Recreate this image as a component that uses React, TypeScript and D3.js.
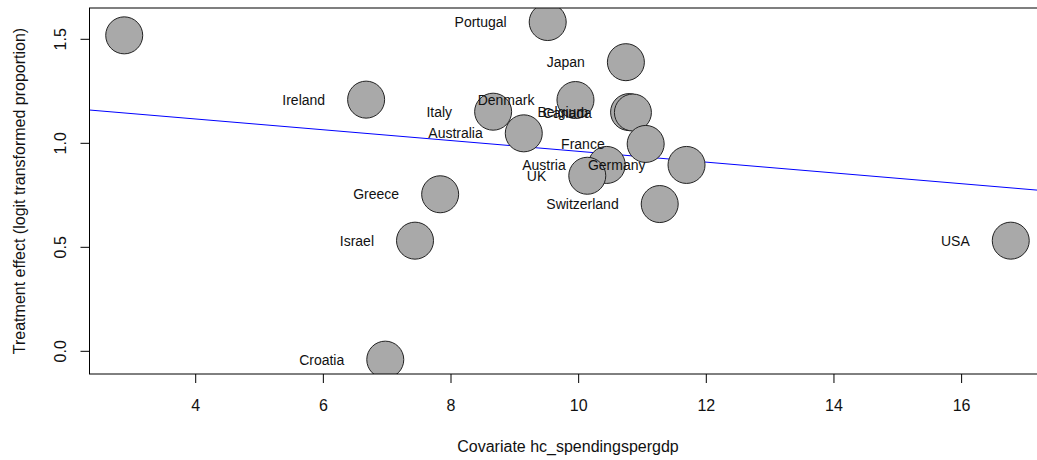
import React from "react";
import * as d3 from "d3";

// Meta-regression bubble plot: treatment effect vs. health spending share of GDP
const countries = ["", "Ireland", "Greece", "Israel", "Croatia", "Italy", "Australia", "Portugal", "Denmark", "Austria", "UK", "Japan", "Belgium", "Canada", "France", "Switzerland", "Germany", "USA"];
const spending = [2.88, 6.67, 7.83, 7.436, 6.97, 8.66, 9.14, 9.515, 9.95, 10.44, 10.135, 10.74, 10.79, 10.85, 11.05, 11.27, 11.69, 16.77];
const effect = [1.519, 1.21, 0.755, 0.532, -0.04, 1.152, 1.048, 1.583, 1.208, 0.896, 0.844, 1.39, 1.15, 1.148, 0.997, 0.708, 0.896, 0.532];

const xTicks = [4, 6, 8, 10, 12, 14, 16];
const yTicks = [0, 0.5, 1.0, 1.5];
const yTickLabels = ["0.0", "0.5", "1.0", "1.5"];

// fitted regression line
const fitIntercept = 1.2206;
const fitSlope = -0.02593;

const W = 1037;
const H = 460;
const left = 89.5;
const right = 1046.5;
const top = 8;
const bottom = 374;

const FONT = "'Liberation Sans', Arial, Helvetica, sans-serif";

export default function App() {
  const x = d3.scaleLinear().domain([2.336, 17.33]).range([left, right]);
  const y = d3.scaleLinear().domain([-0.109, 1.6505]).range([bottom, top]);
  const r = 18.5;

  const [x0, x1] = x.domain();
  const line = d3
    .line<number>()
    .x((d) => x(d))
    .y((d) => y(fitIntercept + fitSlope * d));

  return (
    <svg
      width={W}
      height={H}
      style={{ position: "absolute", left: 0, top: 0, background: "#fff" }}
      fontFamily={FONT}
    >
      <defs>
        <clipPath id="plotArea">
          <rect x={left} y={top} width={right - left} height={bottom - top} />
        </clipPath>
      </defs>
      <g clipPath="url(#plotArea)">
        <path d={line([x0, x1]) || ""} fill="none" stroke="#0000ff" strokeWidth={1} />
        {spending.map((s, i) => (
          <circle key={i} cx={x(s)} cy={y(effect[i])} r={r} fill="#a9a9a9" stroke="#222" strokeWidth={1} />
        ))}
        {spending.map((s, i) => (
          <text
            key={"l" + i}
            x={x(s) - 41}
            y={y(effect[i]) + 5}
            textAnchor="end"
            fontSize={14}
            fill="#111"
          >
            {countries[i]}
          </text>
        ))}
      </g>
      <rect x={left} y={top} width={right - left} height={bottom - top} fill="none" stroke="#000" strokeWidth={1} />
      {xTicks.map((t) => (
        <g key={"x" + t}>
          <line x1={x(t)} x2={x(t)} y1={bottom} y2={bottom + 9} stroke="#000" />
          <text x={x(t)} y={411} textAnchor="middle" fontSize={16} fill="#111">
            {t}
          </text>
        </g>
      ))}
      {yTicks.map((t, i) => (
        <g key={"y" + t}>
          <line x1={left - 9} x2={left} y1={y(t)} y2={y(t)} stroke="#000" />
          <text
            transform={`translate(66,${y(t)}) rotate(-90)`}
            textAnchor="middle"
            fontSize={16}
            fill="#111"
          >
            {yTickLabels[i]}
          </text>
        </g>
      ))}
      <text x={(left + right) / 2} y={452} textAnchor="middle" fontSize={16} fill="#111">
        Covariate hc_spendingspergdp
      </text>
      <text
        transform={`translate(25,${(top + bottom) / 2}) rotate(-90)`}
        textAnchor="middle"
        fontSize={16}
        fill="#111"
      >
        Treatment effect (logit transformed proportion)
      </text>
    </svg>
  );
}
